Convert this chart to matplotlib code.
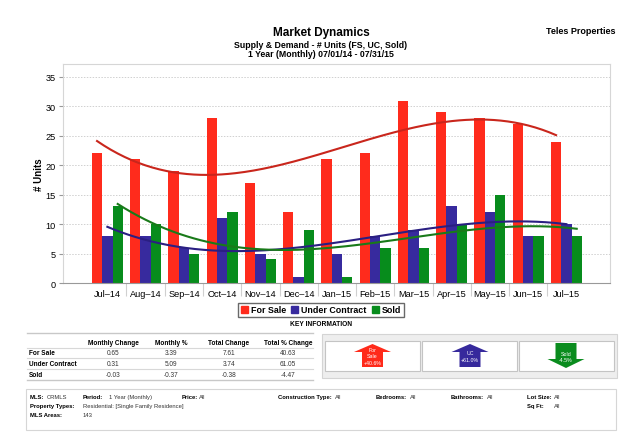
"""
Market Dynamics chart: monthly For Sale / Under Contract / Sold units with
cubic trend lines, plus the key information table, arrows and filter box.
"""

import numpy as np
import matplotlib
matplotlib.use("Agg")
import matplotlib.pyplot as plt
from matplotlib.patches import Patch, Rectangle, Polygon
from matplotlib.lines import Line2D

plt.rcParams["font.family"] = ["Liberation Sans", "DejaVu Sans"]

months = ["Jul–14", "Aug–14", "Sep–14", "Oct–14", "Nov–14", "Dec–14", "Jan–15",
          "Feb–15", "Mar–15", "Apr–15", "May–15", "Jun–15", "Jul–15"]
for_sale = [22, 21, 19, 28, 17, 12, 21, 22, 31, 29, 28, 27, 24]
under_contract = [8, 8, 6, 11, 5, 1, 5, 8, 9, 13, 12, 8, 10]
sold = [13, 10, 5, 12, 4, 9, 1, 6, 6, 10, 15, 8, 8]

table_cols = ["Monthly Change", "Monthly %", "Total Change", "Total % Change"]
table_rows = ["For Sale", "Under Contract", "Sold"]
table_vals = [["0.65", "3.39", "7.61", "40.63"],
              ["0.31", "5.09", "3.74", "61.05"],
              ["-0.03", "-0.37", "-0.38", "-4.47"]]

arrow_labels = ["For\nSale\n+40.6%", "UC\n+61.0%", "Sold\n-4.5%"]

RED, BLUE, GREEN = "#ff2b1c", "#372a9e", "#078c1c"
TREND = {"red": "#c9261c", "blue": "#2a1f82", "green": "#197a19"}

W, H = 640, 435


def fx(px):
    return px / W


def fy(py):
    return 1 - py / H


def ftext(x, y, s, **kw):
    fig.text(fx(x), fy(y), s, **kw)


def hline(x0, x1, y, color="#d8d8d8", lw=0.8):
    fig.add_artist(Line2D([fx(x0), fx(x1)], [fy(y), fy(y)], color=color, lw=lw))


fig = plt.figure(figsize=(6.4, 4.35), dpi=100)
ax = fig.add_axes([fx(63), fy(284), fx(610) - fx(63), fy(65) - fy(284)])

x = np.arange(len(months))
bw = 0.27
ax.bar(x - bw, for_sale, bw, color=RED, zorder=2)
ax.bar(x, under_contract, bw, color=BLUE, zorder=2)
ax.bar(x + bw, sold, bw, color=GREEN, zorder=2)

# cubic trend lines through each series
for vals, off, col in [(for_sale, -bw, TREND["red"]),
                       (under_contract, 0, TREND["blue"]),
                       (sold, bw, TREND["green"])]:
    coef = np.polyfit(x, vals, 3)
    xs = np.linspace(0, len(months) - 1, 200)
    ax.plot(xs + off, np.polyval(coef, xs), color=col, lw=1.5, zorder=3)

ax.set_xlim(-1.16, 13.14)
ax.set_ylim(0, 37.2)
ax.set_yticks(range(0, 36, 5))
ax.set_xticks(x)
ax.set_xticklabels(months, fontsize=6.6)
ax.set_xticks(x[:-1] + 0.5, minor=True)
ax.tick_params(axis="x", which="major", length=0, pad=4)
ax.tick_params(axis="x", which="minor", length=9, color="#d0d0d0", width=0.8)
ax.tick_params(axis="y", labelsize=6.6, length=3, color="#999999", pad=2)
ax.set_ylabel("# Units", fontsize=7, fontweight="bold", labelpad=1)
ax.yaxis.grid(True, linestyle=(0, (1.5, 1.5)), color="#d0d0d0", lw=0.7)
ax.set_axisbelow(True)
for side in ["left", "top", "right"]:
    ax.spines[side].set_color("#d6d6d6")
ax.spines["bottom"].set_color("#999999")

handles = [Patch(color=RED, label="For Sale"),
           Patch(color=BLUE, label="Under Contract"),
           Patch(color=GREEN, label="Sold")]
leg = fig.legend(handles=handles, loc="center", bbox_to_anchor=(fx(321), fy(311)),
                 ncol=3, prop={"weight": "bold", "size": 6.4},
                 handlelength=0.75, handleheight=0.75, handletextpad=0.35,
                 columnspacing=0.6, borderpad=0.3, borderaxespad=0, fancybox=False)
leg.get_frame().set_edgecolor("#444444")
leg.get_frame().set_linewidth(1.0)

# titles
ftext(321, 33, "Market Dynamics", ha="center", va="center", fontsize=8.5, fontweight="bold")
ftext(321, 45.5, "Supply & Demand - # Units (FS, UC, Sold)", ha="center", va="center",
      fontsize=6.3, fontweight="bold")
ftext(321, 54.5, "1 Year (Monthly) 07/01/14 - 07/31/15", ha="center", va="center",
      fontsize=6.3, fontweight="bold")
ftext(615, 31, "Teles Properties", ha="right", va="center", fontsize=6.5, fontweight="bold")
ftext(321, 324, "KEY INFORMATION", ha="center", va="center", fontsize=4.8, fontweight="bold")

# key information table
col_x = [113, 171, 229, 288]
row_y = [353.3, 364.5, 375.7]
hline(27, 313, 334.3, color="#c8c8c8", lw=1.0)
for yy in [348.5, 359, 370]:
    hline(27, 313, yy)
hline(27, 313, 380.5, color="#c8c8c8", lw=1.0)
for cx, name in zip(col_x, table_cols):
    ftext(cx, 343.5, name, ha="center", va="center", fontsize=4.7, fontweight="bold")
for ry, name, vals in zip(row_y, table_rows, table_vals):
    ftext(29, ry, name, ha="left", va="center", fontsize=4.7, fontweight="bold")
    for cx, v in zip(col_x, vals):
        ftext(cx, ry, v, ha="center", va="center", fontsize=4.7, color="#333333")

# arrow panel
fig.add_artist(Rectangle((fx(322), fy(379)), fx(617) - fx(322), fy(335) - fy(379),
                         facecolor="#eeeeee", edgecolor="#d4d4d4", lw=0.8))
for cx0, cx1 in [(325, 420), (422, 517), (519, 614)]:
    fig.add_artist(Rectangle((fx(cx0), fy(372)), fx(cx1) - fx(cx0), fy(342) - fy(372),
                             facecolor="white", edgecolor="#c4c4c4", lw=0.8))


def arrow(cx, up, color):
    hw, sw = 18.5, 10.5
    if up:
        pts = [(cx, 345), (cx + hw, 353), (cx + sw, 353), (cx + sw, 368),
               (cx - sw, 368), (cx - sw, 353), (cx - hw, 353)]
    else:
        pts = [(cx - sw, 344), (cx + sw, 344), (cx + sw, 360), (cx + hw, 360),
               (cx, 369), (cx - hw, 360), (cx - sw, 360)]
    fig.add_artist(Polygon([(fx(a), fy(b)) for a, b in pts], closed=True,
                           facecolor=color, edgecolor="none"))


arrow(372.5, True, "#ff2a1a")
arrow(470, True, "#36299c")
arrow(566, False, "#0a8c1e")
ftext(372.5, 357, arrow_labels[0], ha="center", va="center", fontsize=3.8,
      color="white", linespacing=1.3)
ftext(470, 357, arrow_labels[1], ha="center", va="center", fontsize=3.8,
      color="white", linespacing=1.3)
ftext(566, 357.5, arrow_labels[2], ha="center", va="center", fontsize=3.8,
      color="white", linespacing=1.3)

# filter box
fig.add_artist(Rectangle((fx(26), fy(431)), fx(616) - fx(26), fy(390) - fy(431),
                         facecolor="white", edgecolor="#d6d6d6", lw=0.8))
fs = 4.2
rows = [398, 407, 416]
bold_items = [(30, rows[0], "MLS:"), (83, rows[0], "Period:"), (182, rows[0], "Price:"),
              (278, rows[0], "Construction Type:"), (376, rows[0], "Bedrooms:"),
              (451, rows[0], "Bathrooms:"), (527, rows[0], "Lot Size:"),
              (30, rows[1], "Property Types:"), (527, rows[1], "Sq Ft:"),
              (30, rows[2], "MLS Areas:")]
plain_items = [(47, rows[0], "CRMLS"), (109, rows[0], "1 Year (Monthly)"),
               (199, rows[0], "All"), (335, rows[0], "All"), (410, rows[0], "All"),
               (487, rows[0], "All"), (554, rows[0], "All"),
               (83, rows[1], "Residential: [Single Family Residence]"),
               (554, rows[1], "All"), (83, rows[2], "143")]
for px_, py_, s in bold_items:
    ftext(px_, py_, s, ha="left", va="center", fontsize=fs, fontweight="bold")
for px_, py_, s in plain_items:
    ftext(px_, py_, s, ha="left", va="center", fontsize=fs, color="#333333")

fig.savefig("out.png", dpi=100)
